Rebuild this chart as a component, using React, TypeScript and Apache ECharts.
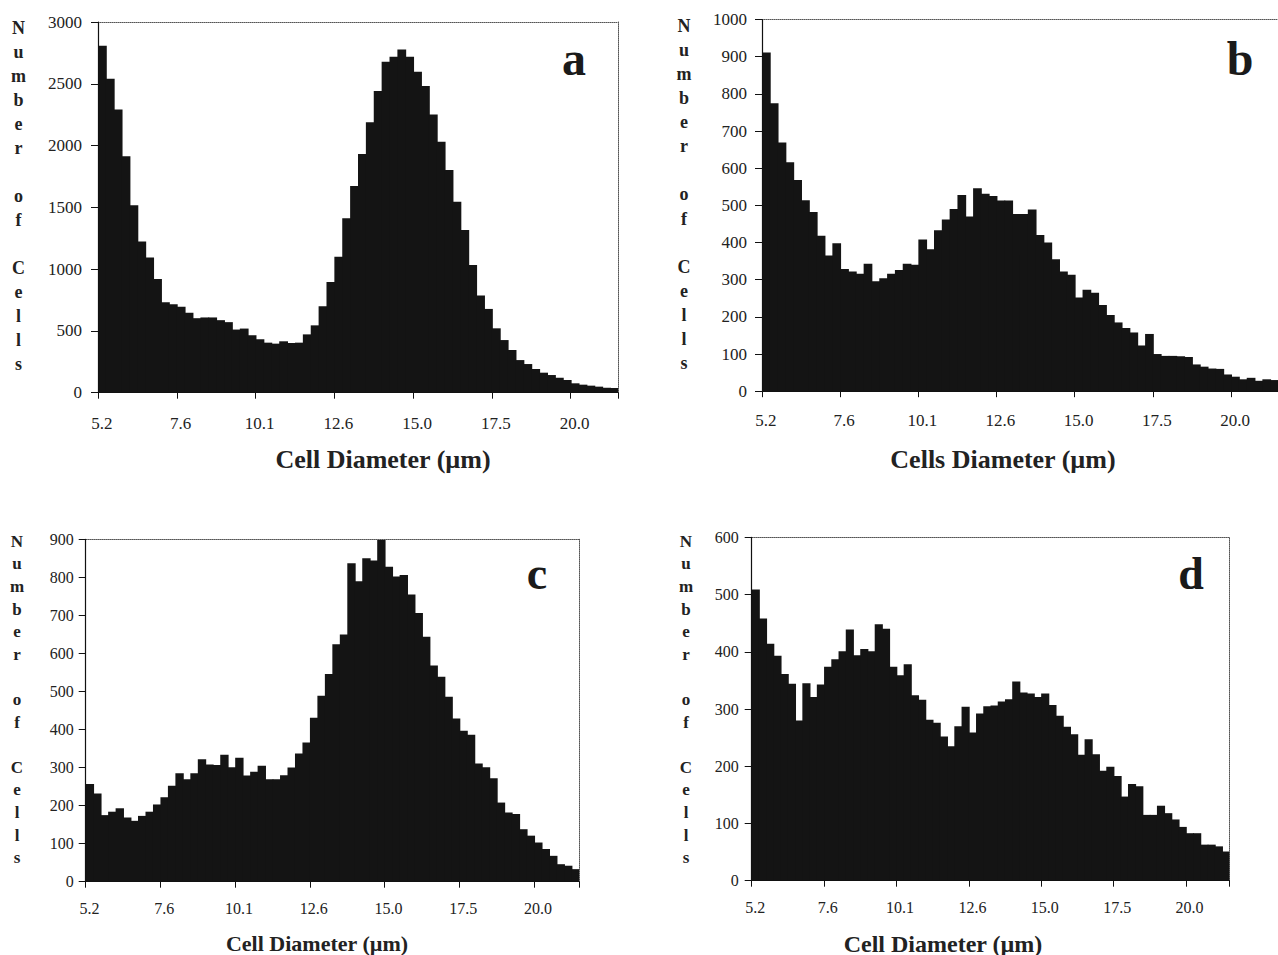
import React, { useEffect, useRef } from "react";
import * as echarts from "echarts";

// ---- data (bin counts; 66 bins per panel) ----
const tickLabels = ["5.2", "7.6", "10.1", "12.6", "15.0", "17.5", "20.0"];

const countsA = [2808, 2540, 2292, 1914, 1516, 1223, 1095, 921, 731, 715, 696, 647, 603, 609, 609, 587, 571, 511, 519, 465, 432, 405, 397, 416, 402, 405, 472, 545, 700, 896, 1100, 1411, 1672, 1931, 2188, 2441, 2679, 2719, 2778, 2719, 2598, 2482, 2252, 2031, 1802, 1546, 1316, 1033, 786, 678, 521, 426, 345, 264, 232, 192, 162, 143, 121, 103, 76, 65, 57, 49, 40, 38];

const countsB = [911, 775, 669, 616, 568, 514, 482, 418, 365, 398, 329, 322, 316, 343, 296, 304, 316, 326, 343, 340, 408, 382, 433, 462, 490, 528, 470, 546, 531, 525, 513, 513, 477, 477, 489, 420, 400, 355, 322, 313, 252, 273, 265, 232, 205, 185, 170, 158, 123, 154, 100, 95, 95, 94, 92, 72, 66, 61, 60, 45, 39, 32, 36, 28, 32, 30];

const countsC = [257, 232, 175, 184, 193, 169, 160, 173, 184, 203, 222, 252, 285, 269, 285, 322, 308, 307, 334, 301, 326, 279, 289, 305, 269, 269, 280, 300, 337, 366, 431, 489, 546, 624, 650, 837, 790, 850, 844, 898, 828, 802, 806, 755, 706, 644, 568, 539, 486, 429, 397, 386, 311, 301, 272, 208, 182, 178, 138, 121, 103, 86, 68, 46, 42, 33];

const countsD = [509, 458, 414, 393, 361, 344, 280, 345, 321, 343, 374, 387, 401, 439, 394, 405, 401, 448, 440, 374, 359, 378, 324, 316, 281, 276, 252, 235, 270, 304, 259, 292, 305, 306, 313, 317, 348, 329, 327, 321, 327, 307, 288, 269, 256, 220, 247, 221, 192, 199, 183, 147, 169, 165, 115, 115, 131, 118, 107, 94, 83, 83, 63, 63, 60, 51];

const yMaxes = [3000, 1000, 900, 600];
const yIntervals = [500, 100, 100, 100];
const panelLetters = ["a", "b", "c", "d"];
const xTitles = ["Cell Diameter (µm)", "Cells Diameter (µm)", "Cell Diameter (µm)", "Cell Diameter (µm)"];
const yTitle = "N\nu\nm\nb\ne\nr\n\no\nf\n\nC\ne\nl\nl\ns";

const FONT = '"Liberation Serif", "Times New Roman", serif';
const BAR = "#141414";

// layout (pixels)
const grids = [
  { left: 98, top: 22, width: 520, height: 370.7 },
  { left: 762, top: 19.5, width: 521.4, height: 371.7 },
  { left: 85.7, top: 539.3, width: 493.3, height: 342.4 },
  { left: 751.7, top: 537.3, width: 477.6, height: 343.4 },
];
const labelCfg = [
  { xFont: 17, yFont: 17, xMargin: 22, yMargin: 16 },
  { xFont: 17, yFont: 17, xMargin: 21, yMargin: 15 },
  { xFont: 16, yFont: 16, xMargin: 19, yMargin: 12 },
  { xFont: 16, yFont: 16, xMargin: 19, yMargin: 13 },
];
const yTitlePos = [
  { x: 18.5, y: 16, lh: 24, size: 18 },
  { x: 684, y: 13.7, lh: 24.1, size: 18 },
  { x: 17, y: 530, lh: 22.6, size: 17 },
  { x: 686, y: 530, lh: 22.6, size: 17 },
];
const xTitlePos = [
  { x: 383, y: 459.5, size: 26 },
  { x: 1003, y: 459.5, size: 26 },
  { x: 317, y: 943.5, size: 22 },
  { x: 943, y: 943.5, size: 24 },
];
const letterPos = [
  { x: 574, y: 58, size: 48 },
  { x: 1240, y: 58, size: 48 },
  { x: 537, y: 573, size: 46 },
  { x: 1191, y: 573, size: 46 },
];

const allCounts = [countsA, countsB, countsC, countsD];

function renderBin(params: any, api: any) {
  const i = api.value(0);
  const v = api.value(1);
  const top = api.coord([i, v]);
  const base = api.coord([i, 0]);
  const bw = api.size([1, 0])[0];
  const last = i === params.dataInsideLength - 1;
  return {
    type: "rect",
    shape: {
      x: top[0] - bw / 2,
      y: top[1],
      width: bw + (last ? 0 : 0.9),
      height: base[1] - top[1],
    },
    style: { fill: BAR },
  };
}

export default function App() {
  const ref = useRef<HTMLDivElement>(null);
  useEffect(() => {
    if (!ref.current) return;
    const chart = echarts.init(ref.current, undefined, { renderer: "svg" });
    const xAxis: any[] = [];
    const yAxis: any[] = [];
    const series: any[] = [];
    const graphic: any[] = [];
    allCounts.forEach((counts, k) => {
      const bins = counts.map((_, i) => String(i));
      const lc = labelCfg[k];
      xAxis.push({
        gridIndex: k,
        type: "category",
        data: bins,
        position: "bottom",
        boundaryGap: true,
        axisLine: { show: true, onZero: false, lineStyle: { color: "#111", width: 1.2 } },
        axisTick: { show: true, interval: 9, length: 6, lineStyle: { color: "#111", width: 1 } },
        axisLabel: {
          interval: 9,
          formatter: (_v: string, i: number) => tickLabels[i / 10] ?? "",
          fontFamily: FONT,
          fontSize: lc.xFont,
          color: "#222",
          margin: lc.xMargin,
        },
        splitLine: { show: false },
        z: 3,
      });
      xAxis.push({
        gridIndex: k,
        type: "category",
        data: bins,
        position: "top",
        axisLine: { show: true, onZero: false, lineStyle: { color: "#555", type: "dotted", width: 1 } },
        axisTick: { show: false },
        axisLabel: { show: false },
        splitLine: { show: false },
      });
      yAxis.push({
        gridIndex: k,
        type: "value",
        min: 0,
        max: yMaxes[k],
        interval: yIntervals[k],
        axisLine: { show: true, onZero: false, lineStyle: { color: "#111", width: 1.2 } },
        axisTick: { show: true, length: 7, lineStyle: { color: "#111", width: 1 } },
        axisLabel: {
          fontFamily: FONT,
          fontSize: lc.yFont,
          color: "#222",
          margin: lc.yMargin,
          formatter: (v: number) => String(v),
        },
        splitLine: { show: false },
        z: 3,
      });
      yAxis.push({
        gridIndex: k,
        type: "value",
        position: "right",
        min: 0,
        max: yMaxes[k],
        interval: yIntervals[k],
        axisLine: { show: true, onZero: false, lineStyle: { color: "#555", type: "dotted", width: 1 } },
        axisTick: { show: false },
        axisLabel: { show: false },
        splitLine: { show: false },
      });
      series.push({
        type: "custom",
        xAxisIndex: 2 * k,
        yAxisIndex: 2 * k,
        data: counts.map((c, i) => [i, c]),
        encode: { x: 0, y: 1 },
        renderItem: renderBin,
        silent: true,
        clip: false,
      });
      const yt = yTitlePos[k];
      graphic.push({
        type: "text",
        x: yt.x,
        y: yt.y,
        style: {
          text: yTitle,
          font: `bold ${yt.size}px ${FONT}`,
          lineHeight: yt.lh,
          fill: "#222",
          align: "center",
          verticalAlign: "top",
        },
      });
      const xt = xTitlePos[k];
      graphic.push({
        type: "text",
        x: xt.x,
        y: xt.y,
        style: {
          text: xTitles[k],
          font: `bold ${xt.size}px ${FONT}`,
          fill: "#222",
          align: "center",
          verticalAlign: "middle",
        },
      });
      const lp = letterPos[k];
      graphic.push({
        type: "text",
        x: lp.x,
        y: lp.y,
        style: {
          text: panelLetters[k],
          font: `bold ${lp.size}px ${FONT}`,
          fill: "#1a1a1a",
          align: "center",
          verticalAlign: "middle",
        },
      });
    });
    chart.setOption({
      animation: false,
      backgroundColor: "#ffffff",
      grid: grids.map((g) => ({ ...g, containLabel: false })),
      xAxis,
      yAxis,
      series,
      graphic,
    });
    return () => chart.dispose();
  }, []);
  return (
    <div
      ref={ref}
      style={{ position: "absolute", left: 0, top: 0, width: 1278, height: 955 }}
    />
  );
}
